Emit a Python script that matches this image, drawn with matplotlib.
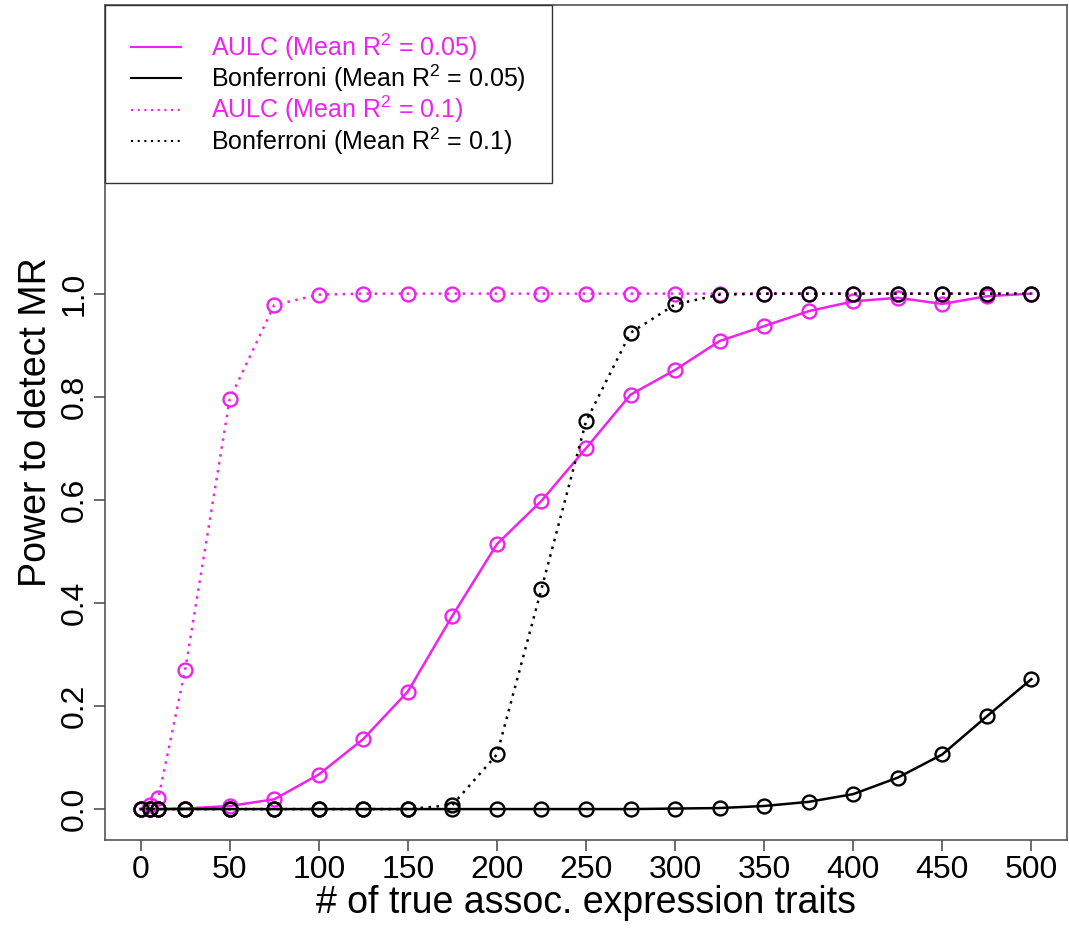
import numpy as np
import matplotlib
matplotlib.use("Agg")
import matplotlib.pyplot as plt

plt.rcParams['font.family'] = ['Liberation Sans', 'DejaVu Sans']
plt.rcParams['mathtext.fontset'] = 'custom'
plt.rcParams['mathtext.rm'] = 'Liberation Sans'
plt.rcParams['mathtext.it'] = 'Liberation Sans:italic'

# number of truly associated expression traits
n_traits = [0, 5, 10, 25, 50, 75, 100, 125, 150, 175, 200, 225, 250,
            275, 300, 325, 350, 375, 400, 425, 450, 475, 500]

# power, mean R^2 = 0.05
aulc_05 = [0, 0, 0, 0.001, 0.006, 0.019, 0.067, 0.136, 0.228, 0.375, 0.514,
           0.598, 0.700, 0.804, 0.852, 0.908, 0.937, 0.966, 0.985, 0.992,
           0.980, 0.995, 1.0]
bonf_05 = [0, 0, 0, 0, 0, 0, 0, 0, 0, 0, 0, 0, 0, 0, 0.001, 0.002, 0.006,
           0.014, 0.029, 0.061, 0.106, 0.180, 0.252]

# power, mean R^2 = 0.1
aulc_10 = [0, 0.008, 0.022, 0.270, 0.795, 0.978, 0.998, 1.0, 1.0, 1.0, 1.0,
           1.0, 1.0, 1.0, 1.0, 1.0, 1.0, 1.0, 1.0, 1.0, 1.0, 1.0, 1.0]
bonf_10 = [0, 0, 0, 0, 0, 0, 0, 0, 0, 0.008, 0.106, 0.427, 0.752, 0.924,
           0.979, 0.998, 1.0, 1.0, 1.0, 1.0, 1.0, 1.0, 1.0]

labels = [r'AULC (Mean R$^2$ = 0.05)', r'Bonferroni (Mean R$^2$ = 0.05)',
          r'AULC (Mean R$^2$ = 0.1)', r'Bonferroni (Mean R$^2$ = 0.1)']

pink = '#ee22ee'
dots = (0, (1.0, 2.2))

fig = plt.figure(figsize=(10.69, 9.30), dpi=100)
ax = fig.add_axes([105 / 1069, 90 / 930, 962 / 1069, 835 / 930])

style = dict(marker='o', markersize=10, markerfacecolor='none',
             markeredgewidth=1.7, linewidth=1.8)
ax.plot(n_traits, aulc_05, color=pink, linestyle='-', label=labels[0], **style)
ax.plot(n_traits, bonf_05, color='black', linestyle='-', label=labels[1], **style)
ax.plot(n_traits, aulc_10, color=pink, linestyle=dots, label=labels[2], **style)
ax.plot(n_traits, bonf_10, color='black', linestyle=dots, label=labels[3], **style)

ax.set_xlim(-20, 520)
ax.set_ylim(-0.06, 1.56)
ax.set_xticks(np.arange(0, 501, 50))
ax.set_yticks(np.arange(0, 1.01, 0.2))
ax.set_yticklabels(['%.1f' % v for v in np.arange(0, 1.01, 0.2)],
                   rotation=90, va='center')
ax.tick_params(direction='out', length=8, width=1.1, color='#444444',
               labelsize=23, pad=3)
for sp in ax.spines.values():
    sp.set_color('#555555')
    sp.set_linewidth(1.2)

ax.set_xlabel('# of true assoc. expression traits', fontsize=27, labelpad=0)
ax.set_ylabel('Power to detect MR', fontsize=27, labelpad=4)

leg = ax.legend(loc='upper left', bbox_to_anchor=(0, 1), borderaxespad=0,
                fontsize=18, fancybox=False, framealpha=1, edgecolor='#333333',
                handlelength=2.0, handletextpad=1.2, borderpad=1.05,
                labelspacing=0.0)
leg.get_frame().set_linewidth(1.0)
for line in leg.get_lines():
    line.set_marker('')
    line.set_linewidth(1.5)
for txt, col in zip(leg.get_texts(), [pink, 'black', pink, 'black']):
    txt.set_color(col)

fig.savefig('out.png', dpi=100)
